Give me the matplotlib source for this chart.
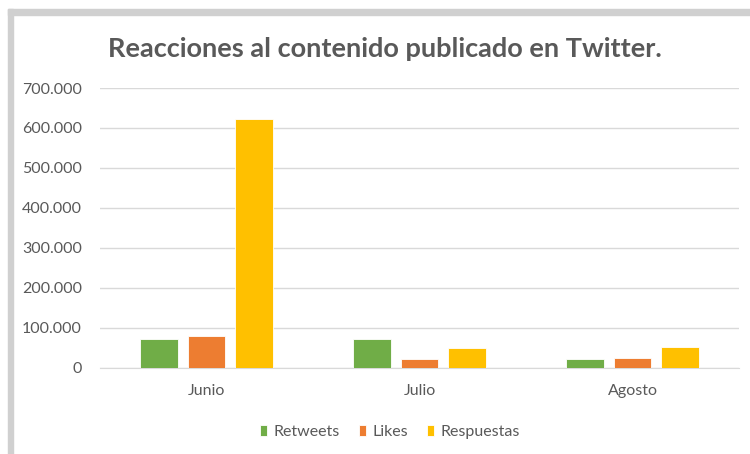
"""
Reacciones al contenido publicado en Twitter - gráfico de barras agrupadas
"""

import numpy as np
import matplotlib.pyplot as plt
from matplotlib.patches import Rectangle
from matplotlib.ticker import FuncFormatter, MultipleLocator

meses = ['Junio', 'Julio', 'Agosto']
retweets = [72000, 72000, 21000]
likes = [80000, 21000, 25000]
respuestas = [622000, 48000, 52000]

series = ['Retweets', 'Likes', 'Respuestas']
colores = ['#70AD47', '#ED7D31', '#FFC000']

plt.rcParams['font.family'] = ['Lato', 'DejaVu Sans']


def miles(v, pos):
    # separador de miles con punto
    return f'{v:,.0f}'.replace(',', '.')


def main():
    fig = plt.figure(figsize=(7.5, 4.54), dpi=100)
    ax = fig.add_axes([0.1333, 0.1905, 0.852, 0.6155])

    # marco gris del recorte (arriba e izquierda)
    fig.patches.append(Rectangle((8 / 750, 1 - 15 / 454), 742 / 750, 6 / 454,
                                 transform=fig.transFigure, color='#d0d0d0', zorder=0))
    fig.patches.append(Rectangle((8 / 750, 0), 5 / 750, 1 - 9 / 454,
                                 transform=fig.transFigure, color='#d0d0d0', zorder=0))

    x = np.arange(len(meses))
    ancho = 0.174
    paso = 0.223
    for i, (nombre, datos) in enumerate(zip(series, [retweets, likes, respuestas])):
        ax.bar(x + (i - 1) * paso, datos, ancho, color=colores[i], label=nombre,
               edgecolor='white', linewidth=0.6, zorder=3)

    ax.set_xlim(-0.5, 2.5)
    ax.set_ylim(0, 700000)
    ax.yaxis.set_major_locator(MultipleLocator(100000))
    ax.yaxis.set_major_formatter(FuncFormatter(miles))
    ax.set_xticks(x)
    ax.set_xticklabels(meses)
    ax.grid(axis='y', color='#d9d9d9', linewidth=1, zorder=0)
    for lado in ['top', 'right', 'left']:
        ax.spines[lado].set_visible(False)
    ax.spines['bottom'].set_color('#d9d9d9')
    ax.tick_params(axis='both', length=0, colors='#595959', labelsize=11.5)
    ax.tick_params(axis='y', pad=13)
    ax.tick_params(axis='x', pad=12)

    fig.text(0.513, 0.893, 'Reacciones al contenido publicado en Twitter.',
             ha='center', va='center', fontsize=19.5, fontweight='bold', color='#595959')

    ax.legend(loc='center', bbox_to_anchor=(0.454, -0.231),
              ncol=3, frameon=False, fontsize=11.5, handlelength=0.45, handleheight=0.7,
              handletextpad=0.4, columnspacing=1.2, labelcolor='#595959')

    fig.savefig('out.png', dpi=100, facecolor='white')
    plt.close(fig)


if __name__ == '__main__':
    main()
